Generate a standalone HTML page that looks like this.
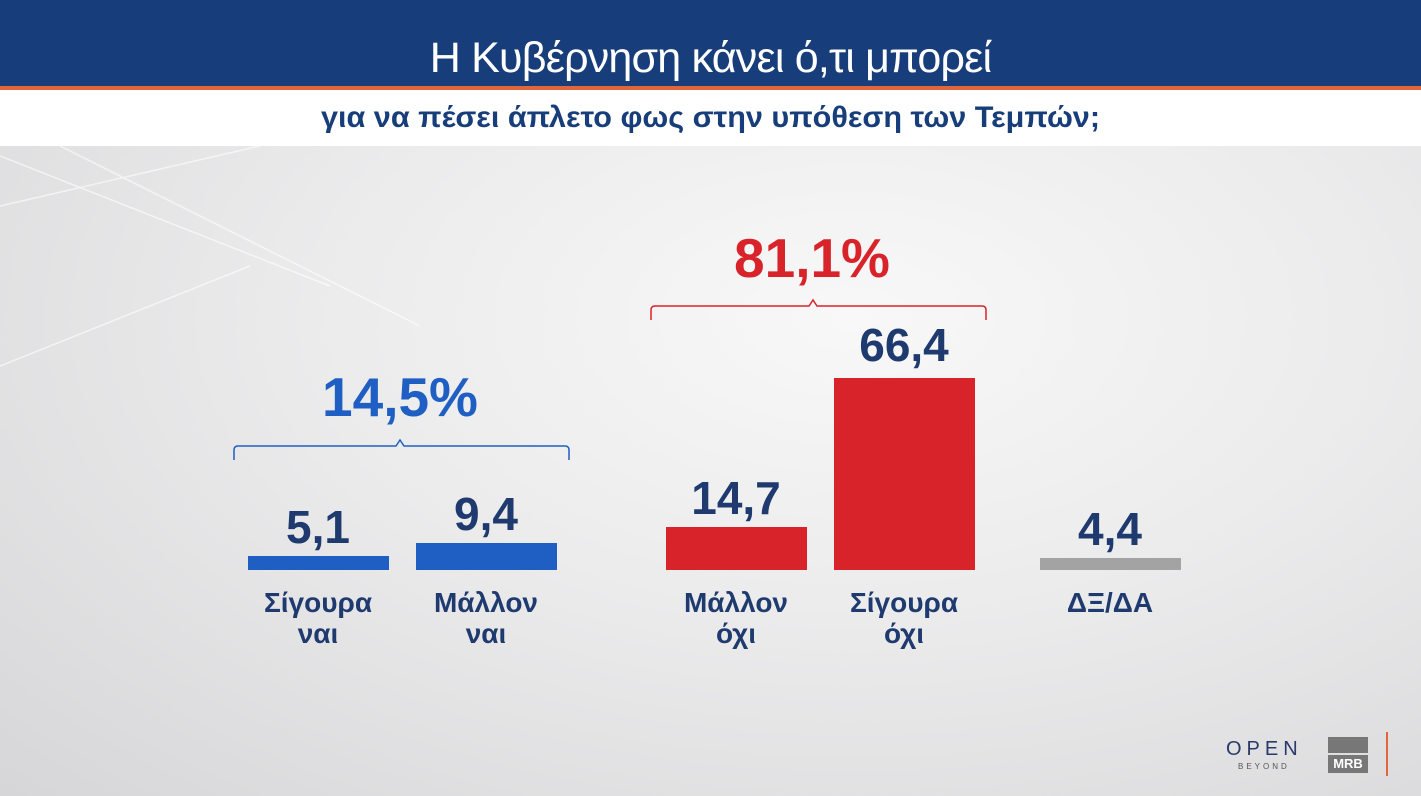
<!DOCTYPE html>
<html><head><meta charset="utf-8"><style>
body{margin:0;width:1421px;height:796px;overflow:hidden;font-family:"Liberation Sans","DejaVu Sans",sans-serif;position:relative;
background:radial-gradient(ellipse at 60% 40%,#f8f8f8 0%,#ebebec 45%,#d6d6d8 100%);}
.a{position:absolute}
.hdr{left:0;top:0;width:1421px;height:86px;background:#173e7a}
.or{left:0;top:86px;width:1421px;height:4px;background:#e2663b}
.wh{left:0;top:90px;width:1421px;height:56px;background:#fff}
.t1{left:0;top:32px;width:1421px;text-align:center;color:#fff;font-size:43px;line-height:52px;letter-spacing:-0.8px}
.t2{left:0;top:100px;width:1421px;text-align:center;color:#173e7a;font-size:30px;font-weight:bold;line-height:36px;transform:scaleX(1.02)}
.bar{position:absolute}
.n{position:absolute;width:200px;text-align:center;font-weight:bold;font-size:46px;color:#1e3a6e;line-height:50px}
.l{position:absolute;width:200px;text-align:center;font-weight:bold;font-size:28px;color:#1e3a6e;line-height:31px}
.big{position:absolute;width:300px;text-align:center;font-weight:bold;font-size:55px;line-height:60px}
</style></head><body>
<div class="a hdr"></div><div class="a or"></div><div class="a wh"></div>
<div class="a t1">Η Κυβέρνηση κάνει ό,τι μπορεί</div>
<div class="a t2">για να πέσει άπλετο φως στην υπόθεση των Τεμπών;</div>

<svg class="a" style="left:0;top:146px" width="1421" height="650">
<g stroke="#fff" stroke-width="1.5" opacity="0.6" fill="none">
<line x1="0" y1="60" x2="260" y2="0"/><line x1="0" y1="10" x2="330" y2="140"/>
<line x1="60" y1="0" x2="420" y2="180"/><line x1="0" y1="220" x2="250" y2="120"/>
</g>
<path d="M234 314 v-10 q0 -4 4 -4 h158 l4 -6 l4 6 h161 q4 0 4 4 v10" stroke="#1f5fc4" stroke-width="1.5" fill="none"/>
<path d="M651 174 v-10 q0 -4 4 -4 h154 l4 -6 l4 6 h165 q4 0 4 4 v10" stroke="#d9232b" stroke-width="1.5" fill="none"/>
</svg>

<div class="big" style="left:250px;top:367px;color:#1f5fc4">14,5%</div>
<div class="big" style="left:662px;top:228px;color:#d9232b">81,1%</div>

<div class="bar" style="left:248px;top:556px;width:141px;height:14px;background:#1f5fc4"></div>
<div class="bar" style="left:416px;top:543px;width:141px;height:27px;background:#1f5fc4"></div>
<div class="bar" style="left:666px;top:527px;width:141px;height:43px;background:#d9232b"></div>
<div class="bar" style="left:834px;top:378px;width:141px;height:192px;background:#d9232b"></div>
<div class="bar" style="left:1040px;top:558px;width:141px;height:12px;background:#a3a3a3"></div>

<div class="n" style="left:218px;top:502px">5,1</div>
<div class="n" style="left:386px;top:489px">9,4</div>
<div class="n" style="left:636px;top:473px">14,7</div>
<div class="n" style="left:804px;top:320px">66,4</div>
<div class="n" style="left:1010px;top:504px">4,4</div>

<div class="l" style="left:218px;top:587px">Σίγουρα<br>ναι</div>
<div class="l" style="left:386px;top:587px">Μάλλον<br>ναι</div>
<div class="l" style="left:636px;top:587px">Μάλλον<br>όχι</div>
<div class="l" style="left:804px;top:587px">Σίγουρα<br>όχι</div>
<div class="l" style="left:1010px;top:587px">ΔΞ/ΔΑ</div>

<div class="a" style="left:1226px;top:738px;font-size:20px;letter-spacing:5px;color:#2a3a6a">OPEN</div>
<div class="a" style="left:1238px;top:762px;font-size:8px;letter-spacing:3px;color:#555">BEYOND</div>
<div class="a" style="left:1328px;top:737px;width:40px;height:16px;background:#777"></div>
<div class="a" style="left:1328px;top:755px;width:40px;height:18px;background:#777;color:#fff;font-weight:bold;font-size:13px;text-align:center;line-height:18px">MRB</div>
<div class="a" style="left:1386px;top:732px;width:2px;height:44px;background:#e2663b"></div>
</body></html>
